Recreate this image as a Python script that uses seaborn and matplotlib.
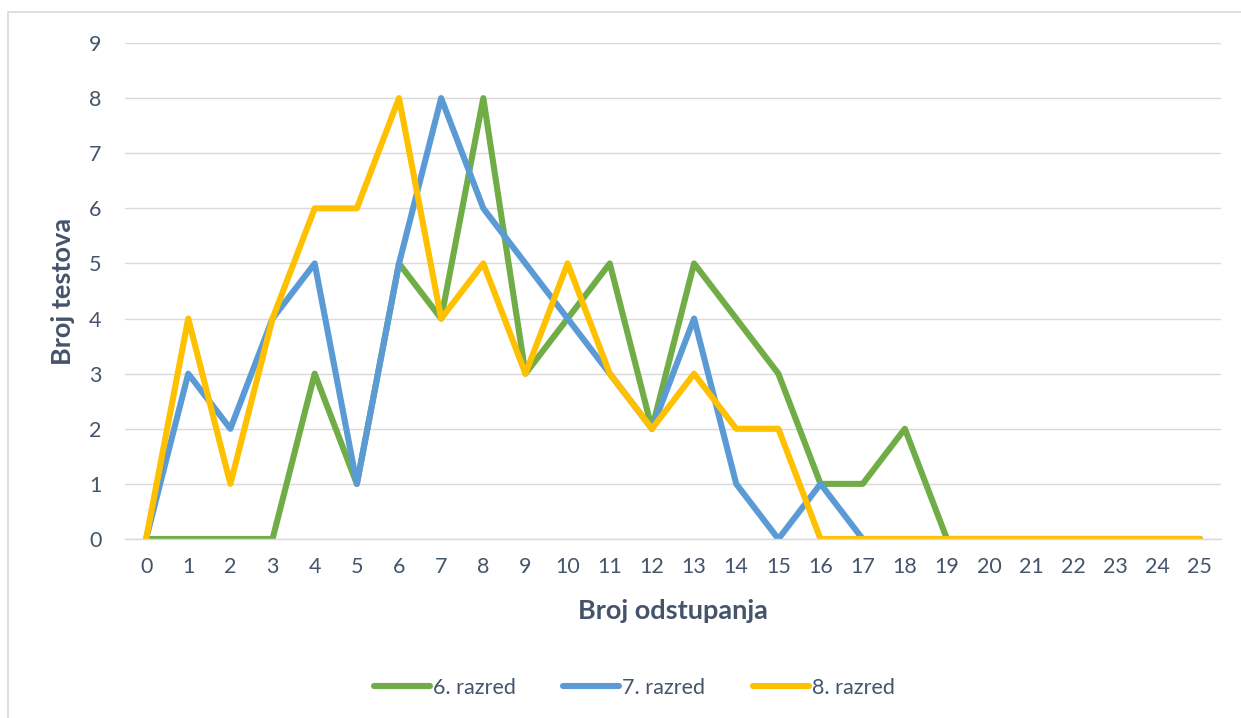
import matplotlib
matplotlib.use("Agg")
import matplotlib.pyplot as plt
import matplotlib.patches as mpatches
import seaborn as sns
import pandas as pd
import numpy as np

odstupanja = list(range(26))
razred_6 = [0, 0, 0, 0, 3, 1, 5, 4, 8, 3, 4, 5, 2, 5, 4, 3, 1, 1, 2, 0, 0, 0, 0, 0, 0, 0]
razred_7 = [0, 3, 2, 4, 5, 1, 5, 8, 6, 5, 4, 3, 2, 4, 1, 0, 1, 0, 0, 0, 0, 0, 0, 0, 0, 0]
razred_8 = [0, 4, 1, 4, 6, 6, 8, 4, 5, 3, 5, 3, 2, 3, 2, 2, 0, 0, 0, 0, 0, 0, 0, 0, 0, 0]
serije = ["6. razred", "7. razred", "8. razred"]
boje = ["#70AD47", "#5B9BD5", "#FFC000"]

df = pd.DataFrame({"odstupanja": odstupanja, serije[0]: razred_6,
                   serije[1]: razred_7, serije[2]: razred_8})
df = df.melt(id_vars="odstupanja", var_name="razred", value_name="testova")

sns.set_style("white")
plt.rcParams["font.family"] = ["Lato", "DejaVu Sans"]
text_col = "#44546A"
lw = 4.4

fig = plt.figure(figsize=(12.41, 7.18), dpi=100)
ax = fig.add_axes([125 / 1241, 1 - 539 / 718, (1221 - 125) / 1241, (539 - 43) / 718])

sns.lineplot(data=df, x="odstupanja", y="testova", hue="razred",
             palette=boje, hue_order=serije, linewidth=lw, ax=ax,
             legend=False, solid_capstyle="round", solid_joinstyle="round")

ax.set_xlim(-0.5, 25.5)
ax.set_ylim(0, 9)
ax.set_yticks(range(10))
ax.set_xticks(odstupanja)
ax.set_xticks(np.arange(-0.5, 26, 1), minor=True)
ax.grid(axis="y", color="#D9D9D9", linewidth=1)
ax.set_axisbelow(True)
for s in ["top", "right", "left"]:
    ax.spines[s].set_visible(False)
ax.spines["bottom"].set_color("#D9D9D9")
ax.spines["bottom"].set_linewidth(1)
ax.tick_params(axis="x", which="major", length=0, pad=13, labelsize=15.5, labelcolor=text_col)
ax.tick_params(axis="x", which="minor", length=6, width=1, color="#D9D9D9", direction="out")
ax.tick_params(axis="y", length=0, pad=17, labelsize=15.5, labelcolor=text_col)

ax.set_xlabel("Broj odstupanja", fontsize=19.5, fontweight="bold", color=text_col, labelpad=16)
ax.set_ylabel("Broj testova", fontsize=19.5, fontweight="bold", color=text_col, labelpad=10)

handles = [plt.Line2D([], [], color=c, linewidth=lw, solid_capstyle="round") for c in boje]
fig.legend(handles, serije, loc="center", bbox_to_anchor=(0.511, 1 - 688 / 718), ncol=3,
           frameon=False, fontsize=15.5, handlelength=2.6, handletextpad=0.15,
           columnspacing=2.2, labelcolor=text_col)

fig.patches.append(mpatches.Rectangle((8 / 1241, -0.1), 1.2, 1 - 12 / 718 + 0.1,
                                      transform=fig.transFigure, fill=False,
                                      edgecolor="#D9D9D9", linewidth=1.2))

fig.savefig("out.png", dpi=100)
